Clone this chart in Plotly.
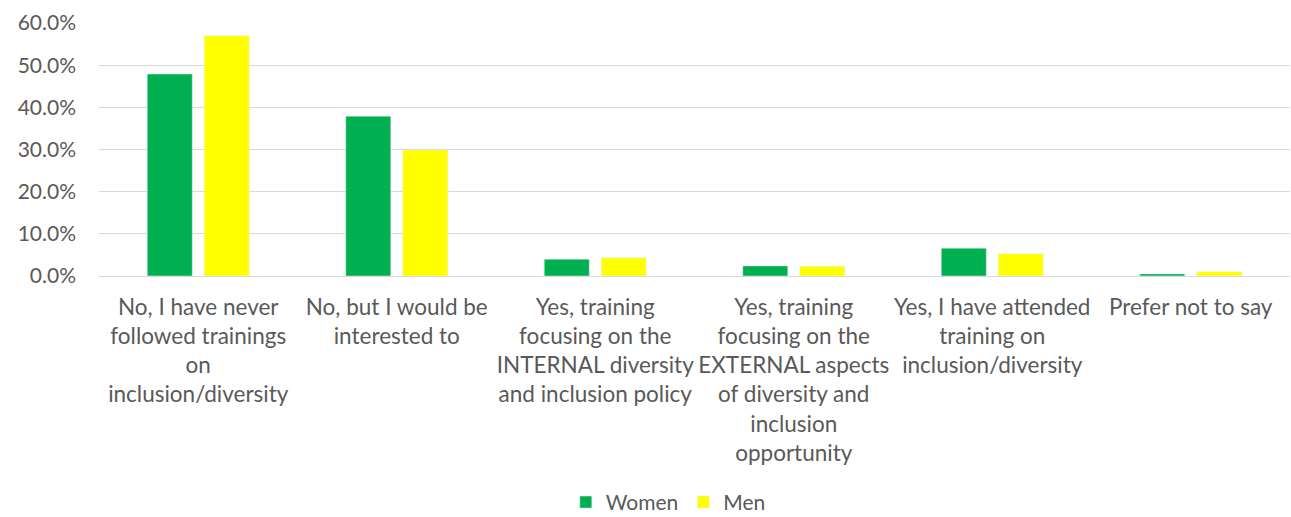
import plotly.graph_objects as go

categories = [
    "No, I have never<br>followed trainings<br>on<br>inclusion/diversity",
    "No, but I would be<br>interested to",
    "Yes, training<br>focusing on the<br>INTERNAL diversity<br>and inclusion policy",
    "Yes, training<br>focusing on the<br>EXTERNAL aspects<br>of diversity and<br>inclusion<br>opportunity",
    "Yes, I have attended<br>training on<br>inclusion/diversity",
    "Prefer not to say",
]
women = [0.479, 0.379, 0.040, 0.024, 0.066, 0.005]
men = [0.570, 0.299, 0.043, 0.023, 0.053, 0.010]

font_family = "Lato, Open Sans, sans-serif"
text_color = "#595959"

fig = go.Figure()
fig.add_trace(go.Bar(name="Women", x=categories, y=women, marker_color="#00B050"))
fig.add_trace(go.Bar(name="Men", x=categories, y=men, marker_color="#FFFF00"))

fig.update_layout(
    width=1291,
    height=517,
    margin=dict(l=99, r=1, t=23, b=241, autoexpand=False),
    barmode="group",
    bargap=0.426,
    bargroupgap=0.21,
    plot_bgcolor="white",
    paper_bgcolor="white",
    font=dict(family=font_family, size=21, color=text_color),
    legend=dict(
        orientation="h",
        x=0.478,
        xanchor="center",
        y=-0.895,
        yanchor="middle",
        font=dict(size=21, color=text_color),
        itemwidth=30,
    ),
    showlegend=True,
)
fig.update_xaxes(
    showgrid=False,
    showline=False,
    ticks="",
    tickfont=dict(size=22.5, color=text_color),
    tickangle=0,
    ticklabelstandoff=15,
)
fig.update_yaxes(
    range=[0, 0.6],
    dtick=0.1,
    tickformat=".1%",
    showgrid=True,
    gridcolor="#d9d9d9",
    gridwidth=1,
    zeroline=True,
    zerolinecolor="#d9d9d9",
    zerolinewidth=1,
    showline=False,
    ticks="",
    ticklabelstandoff=22,
    tickfont=dict(size=21, color=text_color),
)

fig.write_html("out.html")
